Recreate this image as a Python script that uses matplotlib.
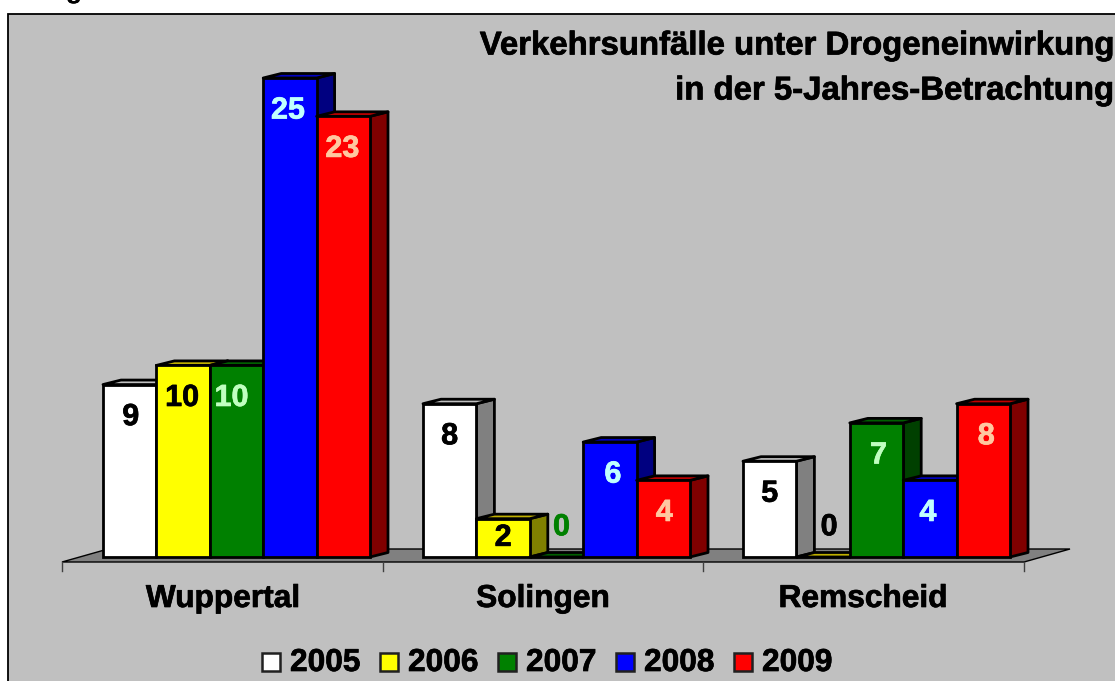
import matplotlib
matplotlib.use('Agg')
import matplotlib.pyplot as plt
import matplotlib.patheffects as pe
from matplotlib.patches import Polygon, Rectangle

plt.rcParams['font.family'] = ['Liberation Sans', 'DejaVu Sans']

cities = ['Wuppertal', 'Solingen', 'Remscheid']
years = ['2005', '2006', '2007', '2008', '2009']
v2005 = [9, 8, 5]
v2006 = [10, 2, 0]
v2007 = [10, 0, 7]
v2008 = [25, 6, 4]
v2009 = [23, 4, 8]
series = [v2005, v2006, v2007, v2008, v2009]

face = ['#ffffff', '#ffff00', '#008000', '#0000ff', '#ff0000']
side = ['#808080', '#808000', '#004000', '#000080', '#800000']
top = ['#c0c0c0', '#c0b000', '#006000', '#0000c0', '#c00000']
label_col = ['black', 'black', '#c0ffc0', '#c0ffff', '#ffc8a0']
zero_col = ['black', 'black', '#008000', 'black', 'black']

# small sideways nudges of the value labels in pixels, per series and city
nudge = [[1, 0, 0], [-1, 0, 2], [-5, 1, 2], [-2, 3, -2], [-1, 1, 3]]

W, H = 1115, 681
PX_X = 320.0   # pixels per category
PX_Y = 19.16   # pixels per accident
X0, Y0 = 236.5, 557.0

fig = plt.figure(figsize=(W / 100, H / 100), dpi=100, facecolor='white')
ax = fig.add_axes([0, 0, 1, 1])
ax.set_xlim(-X0 / PX_X, (W - X0) / PX_X)
ax.set_ylim((Y0 - H) / PX_Y, Y0 / PX_Y)
ax.axis('off')


def px(x):
    return (x - X0) / PX_X


def py(y):
    return (Y0 - y) / PX_Y


def bold_text(x, y, s, size, color='black', stroke=0.5, **kw):
    # the original text is heavier than Liberation Sans Bold
    ax.text(x, y, s, fontsize=size, fontweight='bold', color=color, va='center',
            path_effects=[pe.withStroke(linewidth=stroke, foreground=color)], **kw)


bar_w = 53.4 / PX_X
dx = 18 / PX_X
dy = 4.5 / PX_Y
LW = 2.0

# grey background with its frame
ax.add_patch(Rectangle((px(7.5), py(700)), px(1125) - px(7.5), py(13.5) - py(700),
                       fc='#c0c0c0', ec='black', lw=1.3, zorder=0))

# bit of text cut off at the top of the picture, as in the reference
bold_text(px(74), py(-9), 'g', 19, ha='center', stroke=0, zorder=1)

# floor
ax.add_patch(Polygon([(px(62), py(562)), (px(1024), py(562)), (px(1070), py(549)), (px(108), py(549))],
                     closed=True, fc='#808080', ec='black', lw=1.0, zorder=1))
for i in range(len(cities) + 1):
    t = px(62) + i * (px(1024) - px(62)) / 3
    ax.plot([t, t], [py(562), py(571)], color='#404040', lw=1.0, zorder=1)

# bars, drawn so that front ones overlap the depth of earlier ones
for c in range(len(cities)):
    for s in range(len(years)):
        val = series[s][c]
        left = c + (s - 2.5) * bar_w
        right = left + bar_w
        z = 2 + s * 0.1
        ax.add_patch(Polygon([(right, 0), (right + dx, dy), (right + dx, val + dy), (right, val)],
                             closed=True, fc=side[s], ec='black', lw=LW, zorder=z, joinstyle='round'))
        ax.add_patch(Polygon([(left, val), (left + dx, val + dy), (right + dx, val + dy), (right, val)],
                             closed=True, fc=top[s], ec='black', lw=LW, zorder=z, joinstyle='round'))
        ax.add_patch(Rectangle((left, 0), bar_w, val, fc=face[s], ec='black', lw=LW, zorder=z))
        col = zero_col[s] if val == 0 else label_col[s]
        ypos = 1.55 if val == 0 else max(val - 1.7, val / 2)
        xoff = 4 if val == 0 else 0
        bold_text(left + bar_w / 2 + (xoff + nudge[s][c]) / PX_X, ypos, str(val), 22,
                  color=col, ha='center', zorder=5)

# category labels
for c, name in enumerate(cities):
    bold_text(c - 13.5 / PX_X, py(599), name, 22.8, ha='center')

# title
bold_text(px(1113), py(46), 'Verkehrsunfälle unter Drogeneinwirkung', 23.7, ha='right')
bold_text(px(1113), py(91), 'in der 5-Jahres-Betrachtung', 23.7, ha='right')

# legend
leg_box = [260.5, 378.7, 497, 614.7, 733]
leg_txt = [290, 408, 526, 644, 762]
for s, yr in enumerate(years):
    ax.add_patch(Rectangle((px(leg_box[s] + 1), py(671)), 18 / PX_X, 18 / PX_Y,
                           fc=face[s], ec='#202020', lw=1.8, zorder=3))
    bold_text(px(leg_txt[s]), py(663), yr, 22.8, ha='left')

fig.savefig('out.png', dpi=100)
